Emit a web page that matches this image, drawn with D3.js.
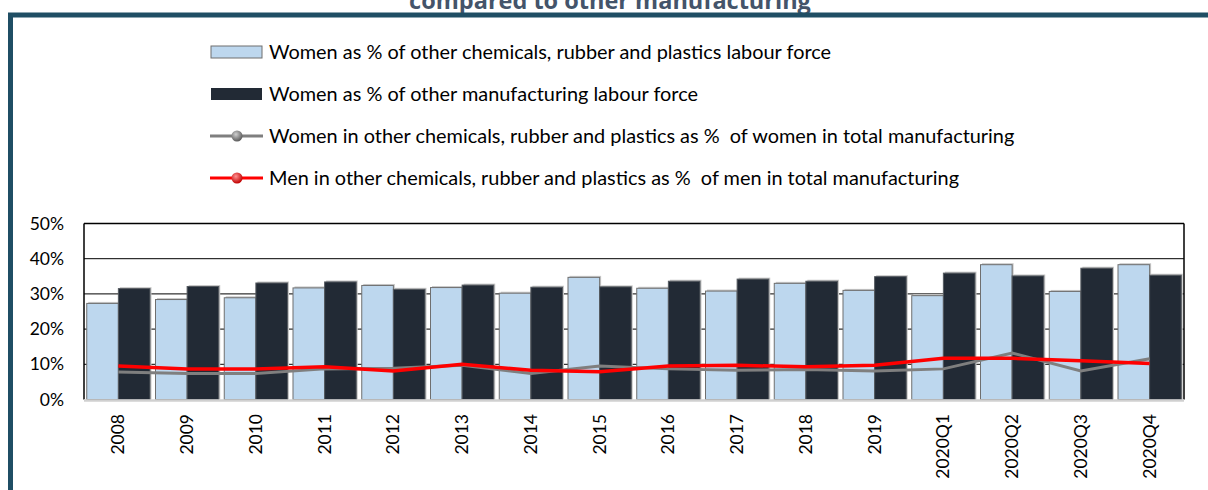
<!DOCTYPE html>
<html>
<head>
<meta charset="utf-8">
<script src="https://cdn.jsdelivr.net/npm/d3@7"></script>
<style>
  body { margin: 0; background: #fff; }
  svg { display: block; font-family: Lato, "Open Sans", sans-serif; }
  .legend text { white-space: pre; }
</style>
</head>
<body>
<div id="chart"></div>
<script>
// categories and series
const years = ["2008","2009","2010","2011","2012","2013","2014","2015","2016","2017","2018","2019","2020Q1","2020Q2","2020Q3","2020Q4"];
const womenChem = [27.3,28.4,28.9,31.7,32.4,31.8,30.2,34.7,31.6,30.8,33.0,31.0,29.5,38.3,30.7,38.3];
const womenOther = [31.5,32.1,33.1,33.4,31.3,32.5,31.9,32.0,33.6,34.2,33.6,34.9,35.9,35.1,37.3,35.3];
const womenShare = [7.8,7.4,7.4,8.7,8.9,9.7,7.4,9.5,8.7,8.3,8.5,8.1,8.7,13.2,8.1,11.6];
const menShare = [9.5,8.7,8.7,9.3,8.1,10.0,8.3,7.9,9.5,9.7,9.3,9.7,11.7,11.7,11.0,10.2];
const yTicks = [0,10,20,30,40,50];
const legendLabels = [
  "Women as % of other chemicals, rubber and plastics labour force",
  "Women as % of other manufacturing labour force",
  "Women in other chemicals, rubber and plastics as %  of women in total manufacturing",
  "Men in other chemicals, rubber and plastics as %  of men in total manufacturing"
];

const width = 1208, height = 490;
const svg = d3.select("#chart").append("svg")
    .attr("width", width)
    .attr("height", height);

// title (cut off at the top, as in the source)
svg.append("text")
    .attr("x", 610)
    .attr("y", 9)
    .attr("text-anchor", "middle")
    .attr("font-family", "Open Sans, sans-serif")
    .attr("font-weight", "bold")
    .attr("font-size", "23.5px")
    .attr("fill", "#44546a")
    .text("compared to other manufacturing");

// outer frame
svg.append("rect")
    .attr("x", 10.5).attr("y", 15)
    .attr("width", 1400).attr("height", 600)
    .attr("fill", "none")
    .attr("stroke", "#1f4e64")
    .attr("stroke-width", 5);

const margin = {left: 84, right: 1184, top: 223.5, bottom: 399.5};

const x = d3.scaleBand()
    .domain(years)
    .range([margin.left, margin.right]);

const y = d3.scaleLinear()
    .domain([0, 50])
    .range([margin.bottom, margin.top]);

// gridlines
svg.append("g").selectAll("line")
    .data(yTicks.filter(d => d > 0 && d < 50))
    .join("line")
    .attr("x1", margin.left).attr("x2", margin.right)
    .attr("y1", d => y(d)).attr("y2", d => y(d))
    .attr("stroke", "#000")
    .attr("stroke-width", 1);

// bars
const bw = x.bandwidth();
const groups = svg.append("g").selectAll("g")
    .data(years)
    .join("g")
    .attr("transform", d => `translate(${x(d)},0)`);

// soft shadow behind bars
groups.append("rect")
    .attr("x", bw * 0.04 + 1.5)
    .attr("y", (d, i) => y(womenChem[i]) - 1.5)
    .attr("width", bw * 0.46)
    .attr("height", (d, i) => y(0) - y(womenChem[i]) + 1.5)
    .attr("fill", "#c8c8c8");
groups.append("rect")
    .attr("x", bw * 0.5 + 1.5)
    .attr("y", (d, i) => y(womenOther[i]) - 1.5)
    .attr("width", bw * 0.46)
    .attr("height", (d, i) => y(0) - y(womenOther[i]) + 1.5)
    .attr("fill", "#c8c8c8");

groups.append("rect")
    .attr("x", bw * 0.04)
    .attr("y", (d, i) => y(womenChem[i]))
    .attr("width", bw * 0.46)
    .attr("height", (d, i) => y(0) - y(womenChem[i]))
    .attr("fill", "#bdd7ee")
    .attr("stroke", "#6f6f6f")
    .attr("stroke-width", 1);

groups.append("rect")
    .attr("x", bw * 0.5)
    .attr("y", (d, i) => y(womenOther[i]))
    .attr("width", bw * 0.46)
    .attr("height", (d, i) => y(0) - y(womenOther[i]))
    .attr("fill", "#222a35")
    .attr("stroke", "#555a60")
    .attr("stroke-width", 1);

// lines
const line = d3.line()
    .x((d, i) => x(years[i]) + bw / 2)
    .y(d => y(d));

svg.append("path")
    .datum(womenShare)
    .attr("d", line)
    .attr("fill", "none")
    .attr("stroke", "#7f7f7f")
    .attr("stroke-width", 3);

svg.append("path")
    .datum(menShare)
    .attr("d", line)
    .attr("fill", "none")
    .attr("stroke", "#ff0000")
    .attr("stroke-width", 3.5);

// plot frame
svg.append("line")
    .attr("x1", margin.left).attr("x2", margin.right)
    .attr("y1", margin.top).attr("y2", margin.top)
    .attr("stroke", "#000").attr("stroke-width", 1.5);
svg.append("line")
    .attr("x1", margin.right).attr("x2", margin.right)
    .attr("y1", margin.top).attr("y2", margin.bottom)
    .attr("stroke", "#000").attr("stroke-width", 1.5);
svg.append("line")
    .attr("x1", margin.left).attr("x2", margin.left)
    .attr("y1", margin.top).attr("y2", margin.bottom)
    .attr("stroke", "#000").attr("stroke-width", 1.5);
svg.append("line")
    .attr("x1", margin.left).attr("x2", margin.right)
    .attr("y1", margin.bottom + 1).attr("y2", margin.bottom + 1)
    .attr("stroke", "#d0d0d0").attr("stroke-width", 2.5);

// y axis labels
svg.append("g").selectAll("text")
    .data(yTicks)
    .join("text")
    .attr("x", 64)
    .attr("y", d => y(d) + 6)
    .attr("text-anchor", "end")
    .attr("font-size", "17.5px")
    .attr("fill", "#000")
    .text(d => d + "%");

// x axis labels, rotated
svg.append("g").selectAll("text")
    .data(years)
    .join("text")
    .attr("transform", d => `translate(${x(d) + bw / 2 + 6},414) rotate(-90)`)
    .attr("text-anchor", "end")
    .attr("font-size", "17.5px")
    .attr("fill", "#000")
    .text(d => d);

// legend
const defs = svg.append("defs");
[["gGray", "#d0d0d0", "#5a5a5a"], ["gRed", "#ff9090", "#c00000"]].forEach(g => {
  const rg = defs.append("radialGradient").attr("id", g[0])
      .attr("cx", "40%").attr("cy", "35%").attr("r", "65%");
  rg.append("stop").attr("offset", "0%").attr("stop-color", g[1]);
  rg.append("stop").attr("offset", "100%").attr("stop-color", g[2]);
});

const legendY = [52, 94, 136, 178];
const lg = svg.append("g").attr("class", "legend");
lg.append("rect")
    .attr("x", 211).attr("y", legendY[0] - 6)
    .attr("width", 51).attr("height", 12)
    .attr("fill", "#bdd7ee").attr("stroke", "#6f6f6f");
lg.append("rect")
    .attr("x", 211).attr("y", legendY[1] - 6)
    .attr("width", 51).attr("height", 12)
    .attr("fill", "#222a35");
lg.append("line")
    .attr("x1", 210).attr("x2", 263)
    .attr("y1", legendY[2]).attr("y2", legendY[2])
    .attr("stroke", "#7f7f7f").attr("stroke-width", 3);
lg.append("circle")
    .attr("cx", 237).attr("cy", legendY[2]).attr("r", 5.5)
    .attr("fill", "url(#gGray)");
lg.append("line")
    .attr("x1", 210).attr("x2", 263)
    .attr("y1", legendY[3]).attr("y2", legendY[3])
    .attr("stroke", "#ff0000").attr("stroke-width", 3);
lg.append("circle")
    .attr("cx", 237).attr("cy", legendY[3]).attr("r", 5.5)
    .attr("fill", "url(#gRed)");

lg.selectAll("text")
    .data(legendLabels)
    .join("text")
    .attr("x", 269)
    .attr("y", (d, i) => legendY[i] + 6.5)
    .attr("font-size", "19.9px")
    .attr("fill", "#000")
    .text(d => d);
</script>
</body>
</html>
